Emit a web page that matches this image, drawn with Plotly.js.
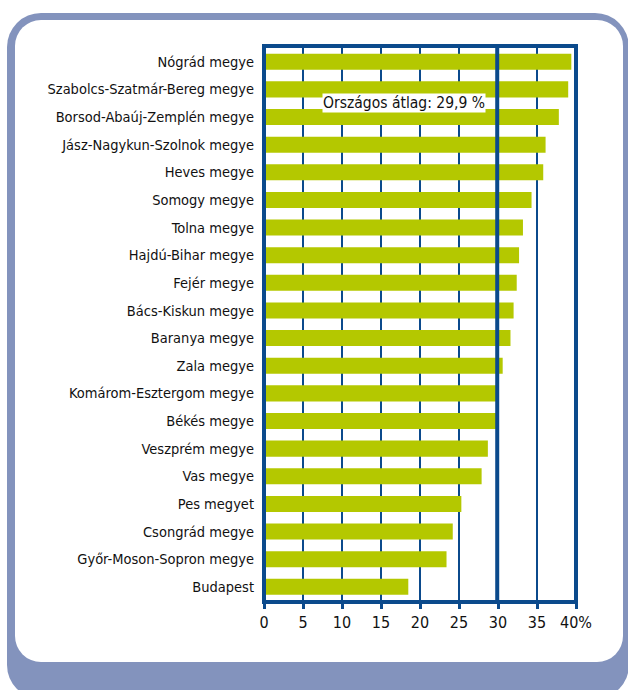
<!DOCTYPE html>
<html>
<head>
<meta charset="utf-8">
<script src="https://cdn.plot.ly/plotly-3.0.1.min.js"></script>
<style>
  html, body { margin:0; padding:0; background:#ffffff; width:628px; height:690px; overflow:hidden; }
  #outer { position:absolute; left:7px; top:13px; width:622px; height:686px; background:#8393bd; border-radius:34px; }
  #inner { position:absolute; left:15px; top:20px; width:608px; height:642px; background:#ffffff; border-radius:26px; }
  #chart { position:absolute; left:0; top:0; width:628px; height:690px; }
</style>
</head>
<body>
<div id="outer"></div>
<div id="inner"></div>
<div id="chart"></div>
<script>
const categories = [
  "Nógrád megye",
  "Szabolcs-Szatmár-Bereg megye",
  "Borsod-Abaúj-Zemplén megye",
  "Jász-Nagykun-Szolnok megye",
  "Heves megye",
  "Somogy megye",
  "Tolna megye",
  "Hajdú-Bihar megye",
  "Fejér megye",
  "Bács-Kiskun megye",
  "Baranya megye",
  "Zala megye",
  "Komárom-Esztergom megye",
  "Békés megye",
  "Veszprém megye",
  "Vas megye",
  "Pes megyet",
  "Csongrád megye",
  "Győr-Moson-Sopron megye",
  "Budapest"
];
const values = [39.4, 39.0, 37.8, 36.1, 35.8, 34.3, 33.2, 32.7, 32.4, 32.0, 31.6, 30.6, 29.8, 29.8, 28.7, 27.9, 25.3, 24.2, 23.4, 18.5];
const averageValue = 29.9;
const averageLabel = "Országos átlag: 29,9 %";
const tickValues = [0, 5, 10, 15, 20, 25, 30, 35, 40];
const tickLabels = ["0", "5", "10", "15", "20", "25", "30", "35", "40%"];

const FONT = "'Liberation Sans Narrow', 'DejaVu Sans Condensed', 'Arial Narrow', sans-serif";
const DARK = "#0b4a8c";
const GREEN = "#b4c800";

const trace = {
  type: "bar",
  orientation: "h",
  x: values,
  y: categories,
  marker: { color: GREEN, line: { width: 0 } },
  width: 0.58,
  hoverinfo: "x+y"
};

const layout = {
  width: 628,
  height: 690,
  margin: { l: 264, r: 52, t: 46, b: 88 },
  paper_bgcolor: "rgba(0,0,0,0)",
  plot_bgcolor: "rgba(0,0,0,0)",
  showlegend: false,
  font: { family: FONT, color: "#111111", size: 15 },
  xaxis: {
    range: [0, 40],
    tickvals: tickValues,
    ticktext: tickLabels,
    ticks: "outside",
    ticklen: 6,
    tickwidth: 3,
    tickcolor: DARK,
    showgrid: true,
    gridcolor: DARK,
    gridwidth: 1.5,
    zeroline: false,
    showline: false,
    tickfont: { family: FONT, size: 16, color: "#111111" },
    fixedrange: true
  },
  yaxis: {
    type: "category",
    categoryorder: "array",
    categoryarray: categories,
    range: [19.55, -0.57],
    showgrid: false,
    zeroline: false,
    showline: false,
    ticks: "",
    ticklabelstandoff: 9,
    tickfont: { family: FONT, size: 14.5, color: "#111111" },
    fixedrange: true
  },
  shapes: [
    {
      type: "line", xref: "x", yref: "paper",
      x0: averageValue, x1: averageValue, y0: 0, y1: 1,
      line: { color: DARK, width: 4 }
    },
    {
      type: "rect", xref: "paper", yref: "paper",
      x0: 0, x1: 1, y0: 0, y1: 1,
      line: { color: DARK, width: 4 }
    }
  ],
  annotations: [
    {
      x: 18.0, y: 1.5, xref: "x", yref: "y",
      text: averageLabel,
      showarrow: false,
      bgcolor: "#ffffff",
      borderpad: 0,
      font: { family: FONT, size: 15.5, color: "#111111" }
    }
  ]
};

Plotly.newPlot("chart", [trace], layout, { displayModeBar: false, staticPlot: true });
</script>
</body>
</html>
